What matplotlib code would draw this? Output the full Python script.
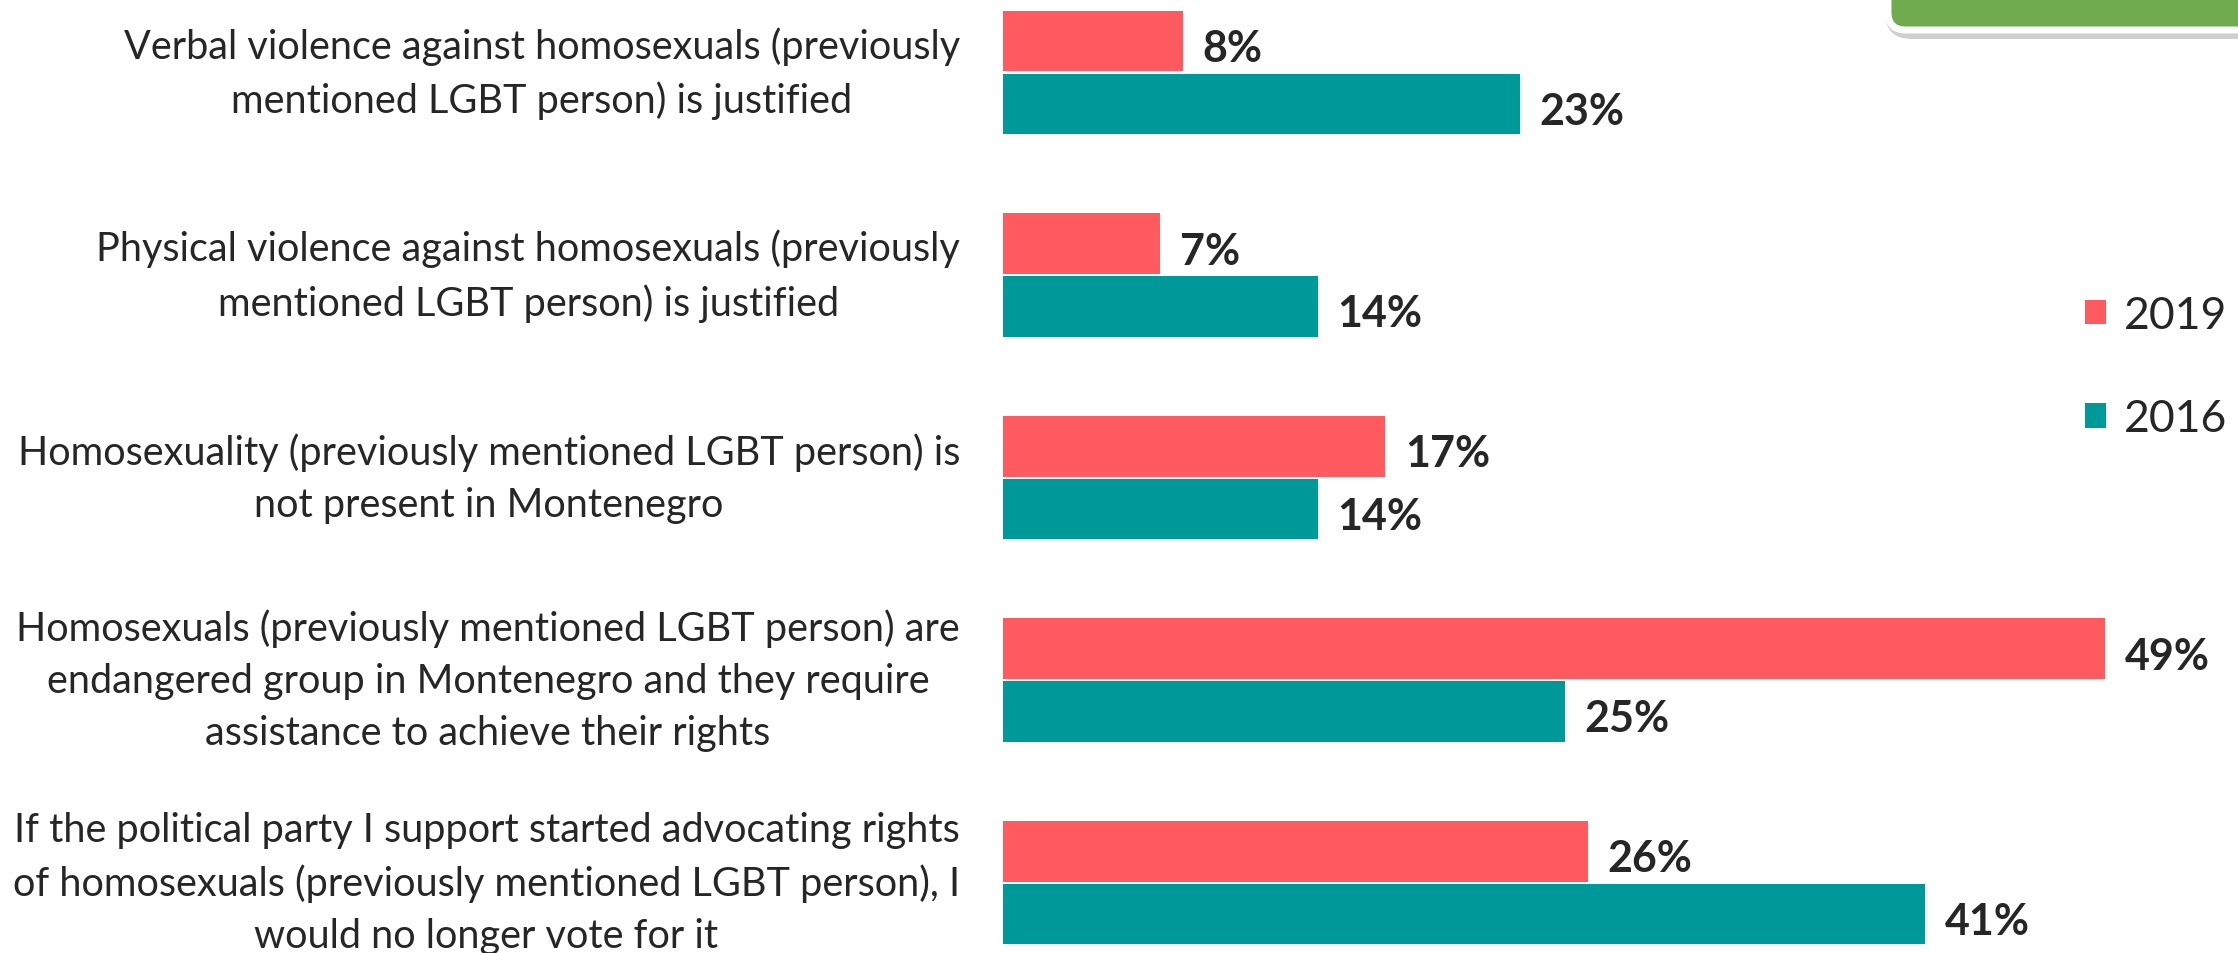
import numpy as np
import matplotlib
matplotlib.use('Agg')
import matplotlib.pyplot as plt
from matplotlib.patches import FancyBboxPatch

plt.rcParams['font.family'] = ['Lato', 'DejaVu Sans']

# data
statements = [
    'Verbal violence against homosexuals (previously\nmentioned LGBT person) is justified',
    'Physical violence against homosexuals (previously\nmentioned LGBT person) is justified',
    'Homosexuality (previously mentioned LGBT person) is\nnot present in Montenegro',
    'Homosexuals (previously mentioned LGBT person) are\nendangered group in Montenegro and they require\nassistance to achieve their rights',
    'If the political party I support started advocating rights\nof homosexuals (previously mentioned LGBT person), I\nwould no longer vote for it',
]
years = ['2019', '2016']
vals_2019 = [8, 7, 17, 49, 26]
vals_2016 = [23, 14, 14, 25, 41]

RED = '#FF5A5F'
TEAL = '#009999'
TXT = '#262626'

W, H = 2238, 954
fig = plt.figure(figsize=(W / 100, H / 100), dpi=100)
ax = fig.add_axes([1003 / W, 0, 1 - 1003 / W, 1])

y = np.arange(len(statements))
b1 = ax.barh(y - 0.155, vals_2019, height=0.30, color=RED, label=years[0])
b2 = ax.barh(y + 0.155, vals_2016, height=0.30, color=TEAL, label=years[1])

ax.set_ylim(4.348, -0.363)
ax.set_xlim(0, 54.9)
ax.axis('off')

for bars, vals in [(b1, vals_2019), (b2, vals_2016)]:
    for bar, v in zip(bars, vals):
        ax.annotate(f'{v}%', (v, bar.get_y() + bar.get_height() / 2),
                    xytext=(14, -5), textcoords='offset points',
                    ha='left', va='center', fontsize=31, fontweight='bold',
                    color=TXT)

for i, s in enumerate(statements):
    ax.annotate(s, (0, i), xytext=(-31, 0), textcoords='offset points',
                ha='right', va='center', multialignment='center',
                fontsize=28.5, color=TXT, annotation_clip=False,
                linespacing=1.5)

fig.legend(handles=[b1, b2], labels=years, loc='upper left',
           bbox_to_anchor=(2085 / W, 1 - 296 / H), frameon=False,
           borderpad=0, borderaxespad=0,
           fontsize=32, handlelength=0.47, handleheight=0.47,
           handletextpad=0.4, labelspacing=1.4, labelcolor=TXT)

# green header box cut at the top right corner
shadow = FancyBboxPatch((1885 / W, 1 - 40 / H), 400 / W, 100 / H,
                        boxstyle='round,pad=0,rounding_size=0.012',
                        transform=fig.transFigure, facecolor='#b0b0b0',
                        edgecolor='none', alpha=0.6, mutation_aspect=W / H)
fig.patches.append(shadow)
box = FancyBboxPatch((1888 / W, 1 - 31 / H), 400 / W, 100 / H,
                     boxstyle='round,pad=0,rounding_size=0.008',
                     transform=fig.transFigure, facecolor='#71AB4F',
                     edgecolor='white', linewidth=5, mutation_aspect=W / H)
fig.patches.append(box)

fig.savefig('out.png', dpi=100)
